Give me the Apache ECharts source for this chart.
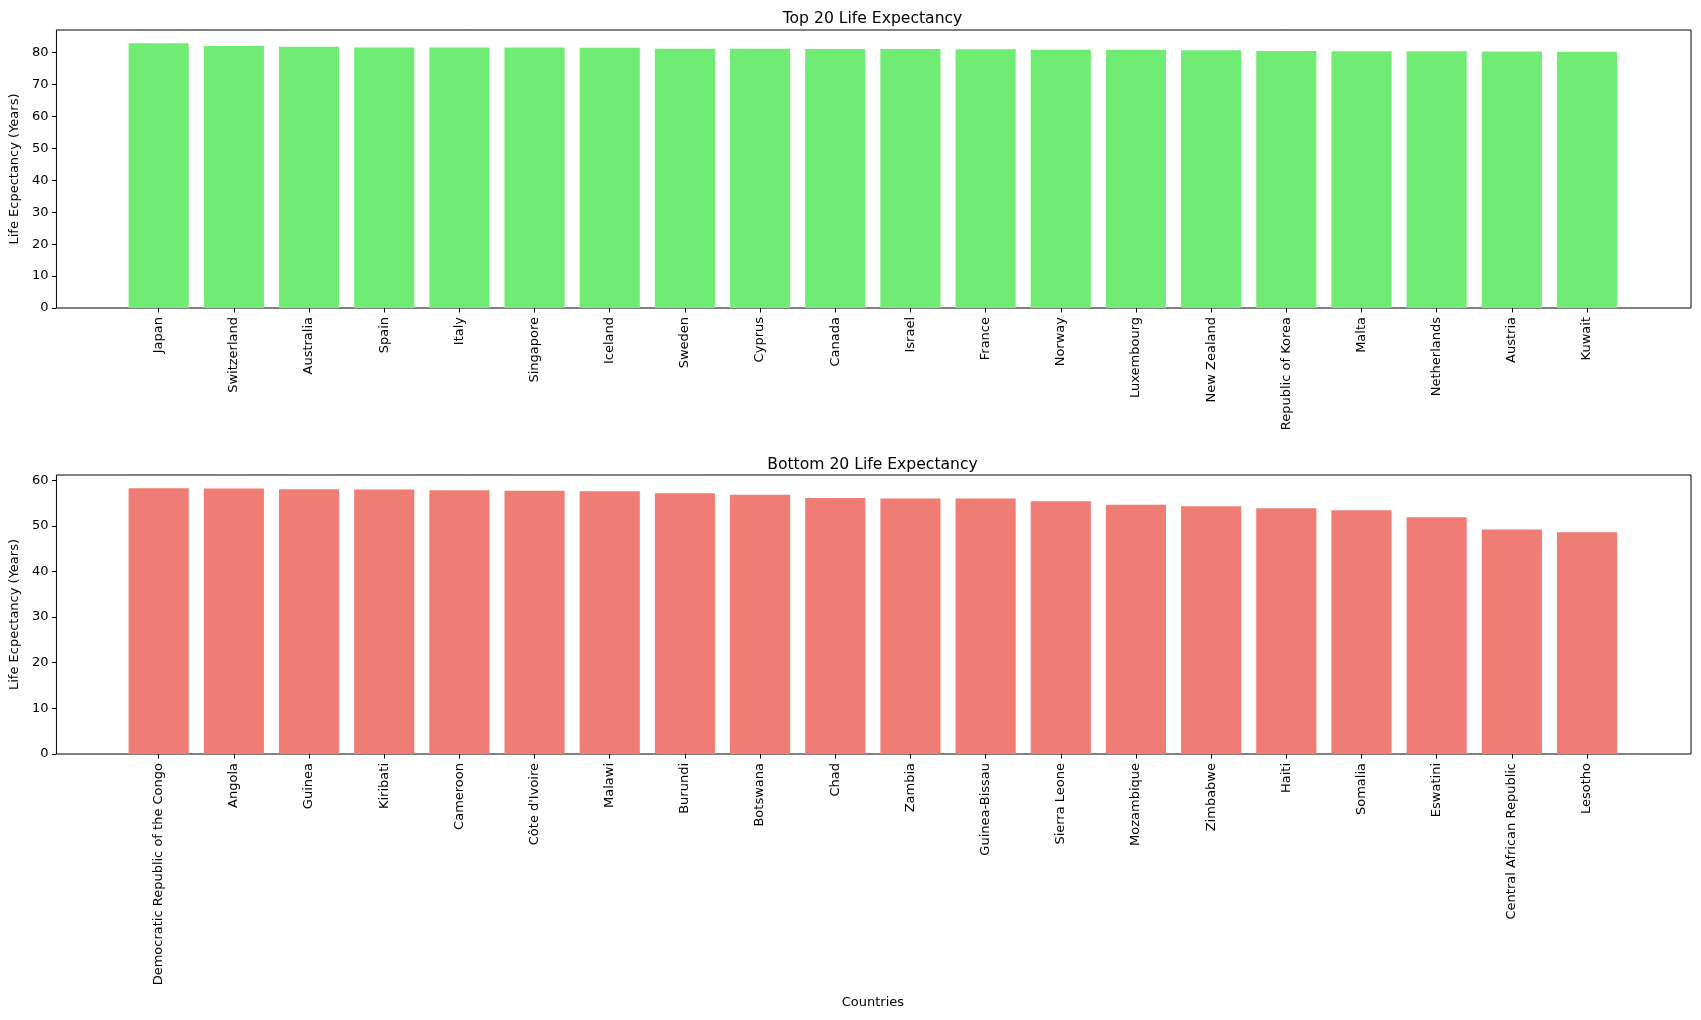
<!DOCTYPE html>
<html>
<head>
<meta charset="utf-8">
<script src="https://cdn.jsdelivr.net/npm/echarts@6/dist/echarts.min.js"></script>
<style>
html,body{margin:0;padding:0;background:#fff;}
#chart{width:1701px;height:1020px;}
</style>
</head>
<body>
<div id="chart"></div>
<script>
const topCountries = ["Japan","Switzerland","Australia","Spain","Italy","Singapore","Iceland","Sweden","Cyprus","Canada","Israel","France","Norway","Luxembourg","New Zealand","Republic of Korea","Malta","Netherlands","Austria","Kuwait"];
const topValues = [82.9,82.0,81.8,81.55,81.55,81.55,81.45,81.2,81.2,81.1,81.1,81.0,80.9,80.9,80.7,80.5,80.4,80.4,80.3,80.2];
const bottomCountries = ["Democratic Republic of the Congo","Angola","Guinea","Kiribati","Cameroon","Côte d'Ivoire","Malawi","Burundi","Botswana","Chad","Zambia","Guinea-Bissau","Sierra Leone","Mozambique","Zimbabwe","Haiti","Somalia","Eswatini","Central African Republic","Lesotho"];
const bottomValues = [58.23,58.16,58.0,57.94,57.8,57.7,57.57,57.13,56.8,56.1,56.0,56.0,55.4,54.6,54.3,53.85,53.4,51.9,49.2,48.6];
const topTicks = [0,10,20,30,40,50,60,70,80];
const bottomTicks = [0,10,20,30,40,50,60];
const titles = ["Top 20 Life Expectancy","Bottom 20 Life Expectancy"];
const yLabel = "Life Ecpectancy (Years)";
const xLabel = "Countries";

const FONT = "DejaVu Sans";
const topMax = Math.max(...topValues) * 1.05;
const botMax = Math.max(...bottomValues) * 1.05;

const chart = echarts.init(document.getElementById('chart'), null, {renderer:'canvas'});

function frameY(gridIndex, max, ticks) {
  return {
    type:'value', gridIndex, min:0, max,
    name: yLabel, nameLocation:'middle', nameGap:31,
    nameTextStyle:{fontFamily:FONT, fontSize:13, color:'#000'},
    axisLine:{show:false},
    axisTick:{show:true, length:4.5, customValues:ticks, lineStyle:{color:'#000', width:1}},
    axisLabel:{show:true, customValues:ticks, margin:8, fontFamily:FONT, fontSize:13, color:'#000'},
    splitLine:{show:false}
  };
}
function barX(gridIndex, cats, withName) {
  const ax = {
    type:'category', gridIndex, data:cats, boundaryGap:true,
    axisLine:{show:false},
    axisTick:{show:true, alignWithLabel:true, length:4.5, lineStyle:{color:'#000', width:1}},
    axisLabel:{show:true, interval:0, rotate:90, margin:9, fontFamily:FONT, fontSize:13, color:'#000'},
    splitLine:{show:false}
  };
  if (withName) {
    ax.name = xLabel; ax.nameLocation = 'middle'; ax.nameGap = 242;
    ax.nameTextStyle = {fontFamily:FONT, fontSize:13, color:'#000'};
  }
  return ax;
}

const option = {
  backgroundColor:'#fff',
  animation:false,
  title:[
    {text:titles[0], left:872.5, top:10.5, textAlign:'center', padding:0,
     textStyle:{fontFamily:FONT, fontSize:15.6, fontWeight:'normal', color:'#000'}},
    {text:titles[1], left:872.5, top:456.5, textAlign:'center', padding:0,
     textStyle:{fontFamily:FONT, fontSize:15.6, fontWeight:'normal', color:'#000'}}
  ],
  grid:[
    {left:54, right:10, top:30, bottom:712, show:true, borderColor:'#000', borderWidth:1, backgroundColor:'transparent', containLabel:false},
    {left:121.1, right:76.4, top:30, bottom:712, containLabel:false},
    {left:54, right:10, top:475, bottom:266, show:true, borderColor:'#000', borderWidth:1, backgroundColor:'transparent', containLabel:false},
    {left:121.1, right:76.4, top:475, bottom:266, containLabel:false}
  ],
  xAxis:[
    {type:'value', gridIndex:0, min:0, max:1, show:false},
    barX(1, topCountries, false),
    {type:'value', gridIndex:2, min:0, max:1, show:false},
    barX(3, bottomCountries, true)
  ],
  yAxis:[
    frameY(0, topMax, topTicks),
    {type:'value', gridIndex:1, min:0, max:topMax, show:false},
    frameY(2, botMax, bottomTicks),
    {type:'value', gridIndex:3, min:0, max:botMax, show:false}
  ],
  series:[
    {type:'bar', xAxisIndex:1, yAxisIndex:1, data:topValues, barCategoryGap:'20%',
     itemStyle:{color:'#70EC74'}},
    {type:'bar', xAxisIndex:3, yAxisIndex:3, data:bottomValues, barCategoryGap:'20%',
     itemStyle:{color:'#F07D75'}}
  ]
};
chart.setOption(option);
</script>
</body>
</html>
